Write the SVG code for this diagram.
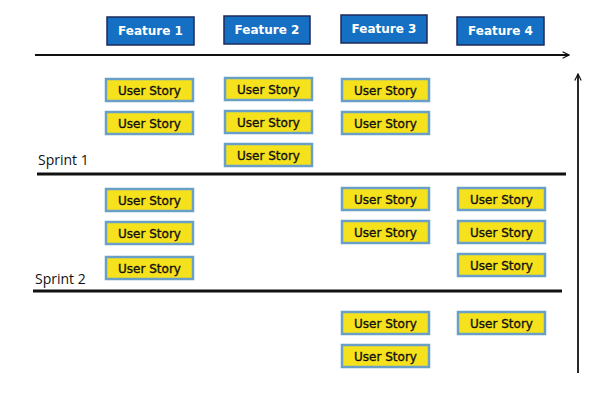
<svg xmlns="http://www.w3.org/2000/svg" width="600" height="400" viewBox="0 0 600 400">
<style>
.feat rect{fill:#1570c4;stroke:#1d2a5a;stroke-width:1.5}
.feat text{fill:#fff;font-family:"DejaVu Sans",sans-serif;font-size:12px;font-weight:bold;text-anchor:middle}
.story rect{fill:#f6e21c;stroke:#6a9fc8;stroke-width:2.5}
.story text{fill:#111;stroke:#111;stroke-width:0.35;font-family:"DejaVu Sans",sans-serif;font-size:12px;text-anchor:middle}
.lbl{font-family:"Open Sans",sans-serif;font-size:14px;fill:#111}
.ln{stroke:#111;fill:none}
</style>
<defs>
<marker id="ah" viewBox="0 0 10 10" refX="9" refY="5" markerWidth="8" markerHeight="8" orient="auto" markerUnits="userSpaceOnUse">
<path d="M1,1 L9,5 L1,9" fill="none" stroke="#111" stroke-width="1.5"/>
</marker>
</defs>
<g id="connectors">
<line class="ln" x1="35" y1="55" x2="569" y2="55" stroke-width="1.8" marker-end="url(#ah)"/>
<line class="ln" x1="578" y1="373" x2="578" y2="74" stroke-width="1.8" marker-end="url(#ah)"/>
<line class="ln" x1="37" y1="174" x2="566" y2="174" stroke-width="3"/>
<line class="ln" x1="33" y1="291" x2="562" y2="291" stroke-width="3"/>
</g>
<g id="sprint1"><text class="lbl" x="38" y="165">Sprint 1</text></g>
<g id="sprint2"><text class="lbl" x="35" y="284">Sprint 2</text></g>
<g id="f1" class="feat"><rect x="107" y="17" width="87" height="28"/><text x="150.5" y="35">Feature 1</text></g>
<g id="f2" class="feat"><rect x="224" y="16" width="86" height="28"/><text x="267" y="34">Feature 2</text></g>
<g id="f3" class="feat"><rect x="341" y="15" width="86" height="28"/><text x="384" y="33">Feature 3</text></g>
<g id="f4" class="feat"><rect x="457" y="17" width="87" height="28"/><text x="500.5" y="35">Feature 4</text></g>
<g id="s1" class="story"><rect x="106" y="79" width="87" height="22"/><text x="149.5" y="94.5">User Story</text></g>
<g id="s2" class="story"><rect x="106" y="112" width="87" height="22"/><text x="149.5" y="127.5">User Story</text></g>
<g id="s3" class="story"><rect x="225" y="78" width="87" height="22"/><text x="268.5" y="93.5">User Story</text></g>
<g id="s4" class="story"><rect x="225" y="111" width="87" height="22"/><text x="268.5" y="126.5">User Story</text></g>
<g id="s5" class="story"><rect x="225" y="144" width="87" height="22"/><text x="268.5" y="159.5">User Story</text></g>
<g id="s6" class="story"><rect x="342" y="79" width="87" height="22"/><text x="385.5" y="94.5">User Story</text></g>
<g id="s7" class="story"><rect x="342" y="112" width="87" height="22"/><text x="385.5" y="127.5">User Story</text></g>
<g id="s8" class="story"><rect x="106" y="189" width="87" height="22"/><text x="149.5" y="204.5">User Story</text></g>
<g id="s9" class="story"><rect x="106" y="222" width="87" height="22"/><text x="149.5" y="237.5">User Story</text></g>
<g id="s10" class="story"><rect x="106" y="257" width="87" height="22"/><text x="149.5" y="272.5">User Story</text></g>
<g id="s11" class="story"><rect x="342" y="188" width="87" height="22"/><text x="385.5" y="203.5">User Story</text></g>
<g id="s12" class="story"><rect x="342" y="221" width="87" height="22"/><text x="385.5" y="236.5">User Story</text></g>
<g id="s13" class="story"><rect x="458" y="188" width="87" height="22"/><text x="501.5" y="203.5">User Story</text></g>
<g id="s14" class="story"><rect x="458" y="221" width="87" height="22"/><text x="501.5" y="236.5">User Story</text></g>
<g id="s15" class="story"><rect x="458" y="254" width="87" height="22"/><text x="501.5" y="269.5">User Story</text></g>
<g id="s16" class="story"><rect x="342" y="312" width="87" height="22"/><text x="385.5" y="327.5">User Story</text></g>
<g id="s17" class="story"><rect x="342" y="345" width="87" height="22"/><text x="385.5" y="360.5">User Story</text></g>
<g id="s18" class="story"><rect x="458" y="312" width="87" height="22"/><text x="501.5" y="327.5">User Story</text></g>
</svg>
